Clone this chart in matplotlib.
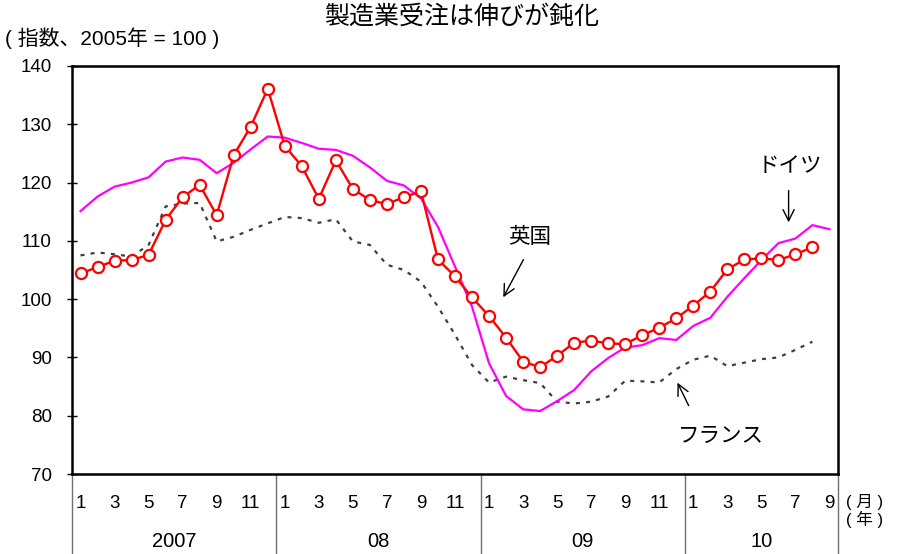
import numpy as np
import matplotlib
matplotlib.use("Agg")
import matplotlib.pyplot as plt
import matplotlib.transforms as mtransforms

plt.rcParams['font.family'] = ['Liberation Sans', 'Noto Sans CJK JP', 'DejaVu Sans']

# 2007-01 .. 2010-09
uk = [104.4, 105.5, 106.6, 106.7, 107.6, 113.6, 117.5, 119.6, 114.4, 124.7, 129.6, 136.1,
      126.3, 122.8, 117.2, 123.8, 118.9, 117.0, 116.3, 117.5, 118.5, 106.8, 103.9, 100.3,
      97.1, 93.4, 89.3, 88.3, 90.3, 92.5, 92.9, 92.4, 92.3, 93.8, 95.1,
      96.7, 98.9, 101.3, 105.1, 106.8, 107.0, 106.7, 107.7, 108.9]
germany = [115.1, 117.6, 119.3, 120.0, 120.9, 123.6, 124.3, 123.9, 121.6, 123.4, 125.7, 127.9,
           127.7, 126.8, 125.8, 125.6, 124.6, 122.6, 120.3, 119.5, 117.3, 112.4, 105.6, 98.7,
           89.0, 83.4, 81.1, 80.8, 82.5, 84.4, 87.6, 89.9, 91.7, 92.1, 93.3,
           93.0, 95.4, 96.8, 100.4, 103.6, 106.7, 109.6, 110.4, 112.7, 112.0]
france = [107.5, 108.0, 107.7, 107.3, 109.3, 115.9, 116.4, 116.5, 109.9, 110.7, 111.9, 113.0,
          114.1, 113.9, 113.1, 113.7, 109.9, 109.3, 105.9, 105.0, 103.0, 98.7, 93.9, 88.7,
          85.7, 86.7, 86.1, 85.6, 82.4, 82.1, 82.4, 83.3, 86.0, 85.9, 85.7,
          88.0, 89.6, 90.3, 88.5, 89.1, 89.7, 90.0, 91.3, 92.7]
month_labels = ['1', '3', '5', '7', '9', '11']
last_year_months = ['1', '3', '5', '7', '9']
years = ['2007', '08', '09', '10']

fig = plt.figure(figsize=(8.99, 5.54), dpi=100)
ax = fig.add_axes([0.0801, 0.1444, 0.8520, 0.7365])

ax.plot(np.arange(len(france)), france, color='#404040', lw=1.6,
        linestyle=(0, (1.8, 2.8)), zorder=2)
ax.plot(np.arange(len(germany)), germany, color='#ff00ff', lw=1.6, zorder=3)
ax.plot(np.arange(len(uk)), uk, color='red', lw=1.7, marker='o', markersize=8,
        markerfacecolor='white', markeredgecolor='red', markeredgewidth=1.6, zorder=4)

ax.set_xlim(-0.5, 44.5)
ax.set_ylim(70, 140)
ax.set_yticks(np.arange(70, 141, 10))
ax.tick_params(axis='y', direction='inout', length=7, width=1, labelsize=13.5, pad=11)
ax.set_xticks([])
for s in ax.spines.values():
    s.set_linewidth(1.8)

# x axis: months and years drawn below the axes
trans = mtransforms.blended_transform_factory(ax.transData, ax.transAxes)
for yi, yr in enumerate(years):
    start = yi * 12
    labs = last_year_months if yi == 3 else month_labels
    for lab in labs:
        ax.text(start + int(lab) - 1, -0.072, lab, transform=trans, ha='center', va='center',
                fontsize=13.5, clip_on=False)
    end = min(start + 12, 45)
    ax.text((start + end - 1) / 2, -0.165, yr, transform=trans, ha='center', va='center',
            fontsize=14.5, clip_on=False)
for x in [-0.5, 11.5, 23.5, 35.5, 44.5]:
    ax.plot([x, x], [0, -0.2], transform=trans, color='#707070', lw=1, clip_on=False)

ax.text(44.95, -0.068, '( 月 )', transform=trans, ha='left', va='center', fontsize=12,
        clip_on=False)
ax.text(44.95, -0.112, '( 年 )', transform=trans, ha='left', va='center', fontsize=12,
        clip_on=False)

fig.text(0.513, 0.970, '製造業受注は伸びが鈍化', ha='center', va='center', fontsize=18)
fig.text(0.006, 0.931, '( 指数、2005年 = 100 )', ha='left', va='center', fontsize=15)

# annotations
ax.annotate('', xy=(41.6, 112.7), xytext=(41.6, 119.1),
            arrowprops=dict(arrowstyle='->', color='black', lw=1, mutation_scale=20))
ax.text(41.7, 122.7, 'ドイツ', ha='center', va='center', fontsize=15.5)
ax.annotate('', xy=(24.76, 99.9), xytext=(26.1, 107.2),
            arrowprops=dict(arrowstyle='->', color='black', lw=1, mutation_scale=20))
ax.text(26.4, 110.5, '英国', ha='center', va='center', fontsize=15.5)
ax.annotate('', xy=(35.0, 86.1), xytext=(35.8, 81.3),
            arrowprops=dict(arrowstyle='->', color='black', lw=1, mutation_scale=20))
ax.text(37.6, 76.4, 'フランス', ha='center', va='center', fontsize=15.5)

fig.savefig('out.png', dpi=100)
